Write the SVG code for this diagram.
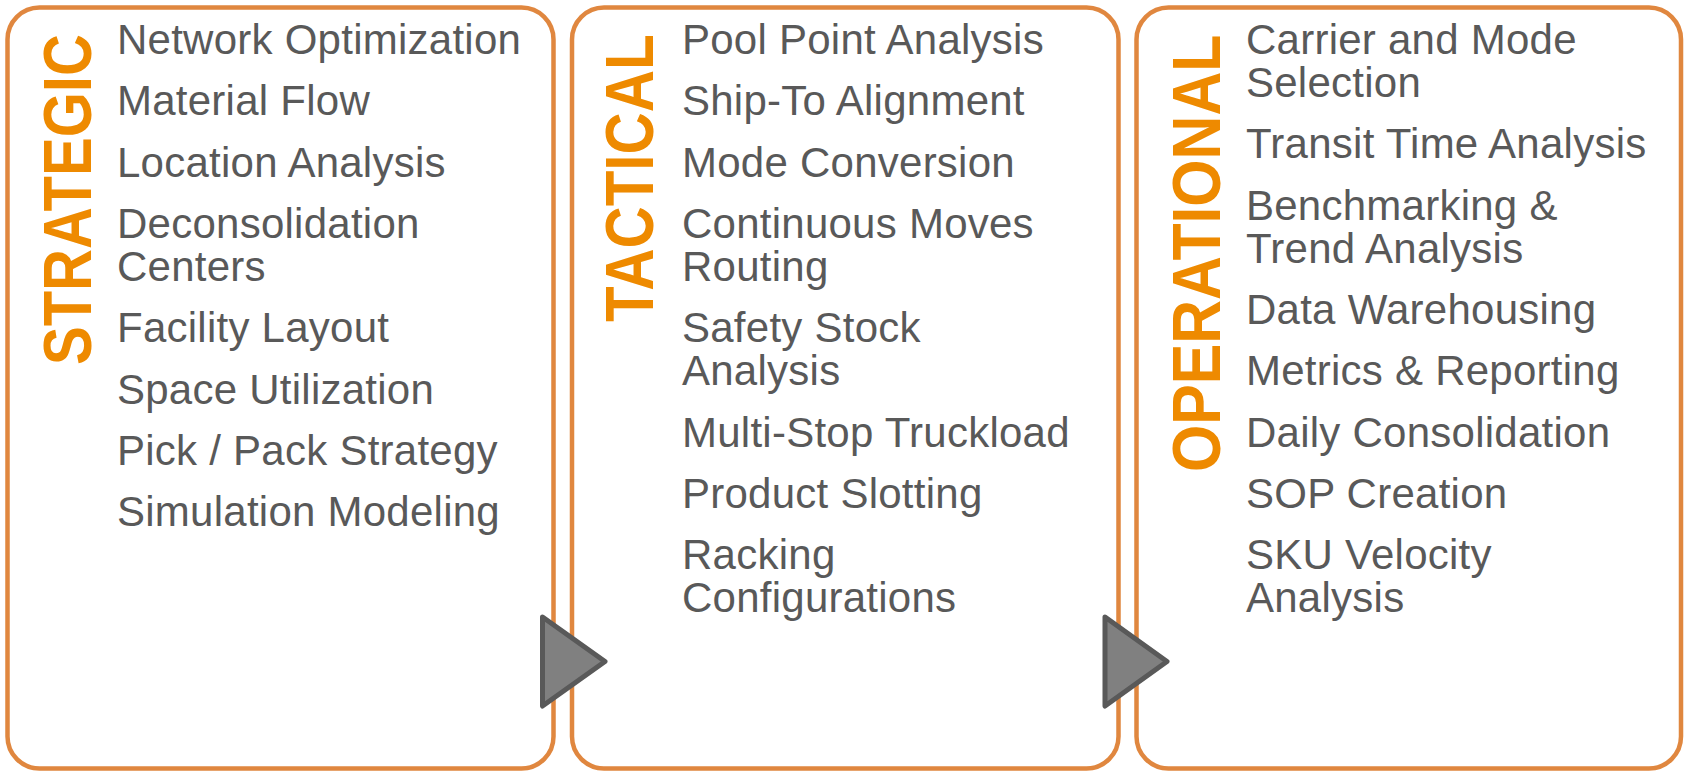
<svg xmlns="http://www.w3.org/2000/svg" width="1686" height="772" viewBox="0 0 1686 772">
<style>
.box{fill:#fff;stroke:#E0873F;stroke-width:4.5}
.item{font-family:"Liberation Sans",Arial,sans-serif;font-size:42px;fill:#595959;letter-spacing:0.25px}
.title{font-family:"Liberation Sans",Arial,sans-serif;font-size:68px;font-weight:bold;fill:#EE8A00}
.arrow{fill:#808080;stroke:#595959;stroke-width:5;stroke-linejoin:round}
</style>
<rect width="1686" height="772" fill="#fff"/>
<g id="strategic">
<rect class="box" x="7.5" y="7.5" width="546" height="761" rx="32"/>
<text class="title" transform="translate(91,365) rotate(-90) scale(0.853,1)">STRATEGIC</text>
<text class="item"><tspan x="117" y="54">Network Optimization</tspan><tspan x="117" y="115.3">Material Flow</tspan><tspan x="117" y="176.6">Location Analysis</tspan><tspan x="117" y="237.9">Deconsolidation</tspan><tspan x="117" y="280.9">Centers</tspan><tspan x="117" y="342.2">Facility Layout</tspan><tspan x="117" y="403.5">Space Utilization</tspan><tspan x="117" y="464.8">Pick / Pack Strategy</tspan><tspan x="117" y="526.1">Simulation Modeling</tspan></text>
</g>
<g id="tactical">
<rect class="box" x="572" y="7.5" width="546.5" height="761" rx="32"/>
<text class="title" transform="translate(653,322) rotate(-90) scale(0.859,1)">TACTICAL</text>
<text class="item"><tspan x="682" y="54">Pool Point Analysis</tspan><tspan x="682" y="115.3">Ship-To Alignment</tspan><tspan x="682" y="176.6">Mode Conversion</tspan><tspan x="682" y="237.9">Continuous Moves</tspan><tspan x="682" y="280.9">Routing</tspan><tspan x="682" y="342.2">Safety Stock</tspan><tspan x="682" y="385.2">Analysis</tspan><tspan x="682" y="446.5">Multi-Stop Truckload</tspan><tspan x="682" y="507.8">Product Slotting</tspan><tspan x="682" y="569.1">Racking</tspan><tspan x="682" y="612.1">Configurations</tspan></text>
</g>
<g id="operational">
<rect class="box" x="1136.5" y="7.5" width="544.5" height="761" rx="32"/>
<text class="title" transform="translate(1220,472) rotate(-90) scale(0.893,1)">OPERATIONAL</text>
<text class="item"><tspan x="1246" y="54">Carrier and Mode</tspan><tspan x="1246" y="97">Selection</tspan><tspan x="1246" y="158.3">Transit Time Analysis</tspan><tspan x="1246" y="219.6">Benchmarking &amp;</tspan><tspan x="1246" y="262.6">Trend Analysis</tspan><tspan x="1246" y="323.9">Data Warehousing</tspan><tspan x="1246" y="385.2">Metrics &amp; Reporting</tspan><tspan x="1246" y="446.5">Daily Consolidation</tspan><tspan x="1246" y="507.8">SOP Creation</tspan><tspan x="1246" y="569.1">SKU Velocity</tspan><tspan x="1246" y="612.1">Analysis</tspan></text>
</g>
<g id="connectors">
<polygon class="arrow" points="542.5,617 605,661.5 542.5,706"/>
<polygon class="arrow" points="1105,617 1167,661.5 1105,706"/>
</g>
</svg>
